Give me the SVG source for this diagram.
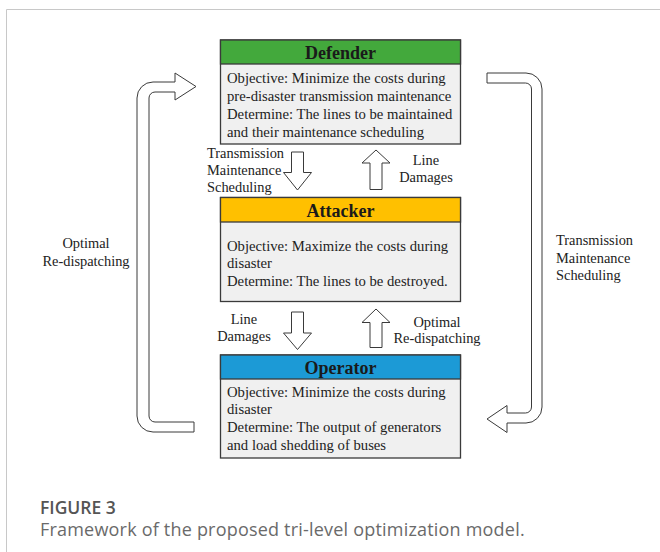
<svg xmlns="http://www.w3.org/2000/svg" width="660" height="552" viewBox="0 0 660 552">
<style>
.frame{fill:none;stroke:#c8c8c8;stroke-width:1}
.box{fill:#f0f0f0;stroke:#3a3a3a;stroke-width:1.3}
.hdr{stroke:#3a3a3a;stroke-width:1.3}
.ht{font-family:"Liberation Serif",serif;font-weight:bold;font-size:18px;fill:#1a1a1a;text-anchor:middle}
.bt{font-family:"Liberation Serif",serif;font-size:14.7px;fill:#222}
.lb{font-family:"Liberation Serif",serif;font-size:14.4px;fill:#222}
.mid{text-anchor:middle}
.arr{fill:#fff;stroke:#3a3a3a;stroke-width:1;stroke-linejoin:miter}
.cap1{font-family:"Open Sans",sans-serif;font-weight:600;font-size:17.5px;fill:#555}
.cap2{font-family:"Open Sans",sans-serif;font-size:18px;letter-spacing:0.2px;fill:#6a6a6a}
</style>
<path class="frame" d="M660,9.5 H6.5 V552"/>
<g id="defender">
<rect class="box" x="220.5" y="40" width="240" height="104"/>
<rect class="hdr" x="220.5" y="40" width="240" height="24" fill="#43a93c"/>
<text class="ht" x="340.5" y="58.5">Defender</text>
<text class="bt" x="227" y="83.3">Objective: Minimize the costs during</text>
<text class="bt" x="227" y="101.2">pre-disaster transmission maintenance</text>
<text class="bt" x="227" y="119">Determine: The lines to be maintained</text>
<text class="bt" x="227" y="136.8">and their maintenance scheduling</text>
</g>
<g id="attacker">
<rect class="box" x="220.5" y="197.5" width="240" height="104"/>
<rect class="hdr" x="220.5" y="197.5" width="240" height="24.5" fill="#ffc000"/>
<text class="ht" x="340.5" y="216.5">Attacker</text>
<text class="bt" x="227" y="250.5">Objective: Maximize the costs during</text>
<text class="bt" x="227" y="268.3">disaster</text>
<text class="bt" x="227" y="286.1">Determine: The lines to be destroyed.</text>
</g>
<g id="operator">
<rect class="box" x="220.5" y="355" width="240" height="103"/>
<rect class="hdr" x="220.5" y="355" width="240" height="24" fill="#1c9ad6"/>
<text class="ht" x="340.5" y="374">Operator</text>
<text class="bt" x="227" y="396.7">Objective: Minimize the costs during</text>
<text class="bt" x="227" y="414.4">disaster</text>
<text class="bt" x="227" y="432.1">Determine: The output of generators</text>
<text class="bt" x="227" y="449.8">and load shedding of buses</text>
</g>
<g id="connectors">
<path class="arr" d="M194,432 H153 A16,16 0 0 1 137,416 V98 A16,16 0 0 1 153,82 H175 V73 L196,86.5 L175,100 V92 H155 A6,6 0 0 0 149,98 V416 A6,6 0 0 0 155,422 H194 Z"/>
<path class="arr" d="M487,73 H526 A16,16 0 0 1 542,89 V407 A16,16 0 0 1 526,423 H507 V432.5 L487,419 L507,405.5 V413 H525.5 A6,6 0 0 0 531.5,407 V89 A6,6 0 0 0 525.5,83 H487 Z"/>
<path class="arr" d="M291.5,152 H303.5 V172.5 H311.5 L297.5,190 L283.5,172.5 H291.5 Z"/>
<path class="arr" d="M376,150 L390,163 H382 V189.5 H370 V163 H362 Z"/>
<path class="arr" d="M291.5,312 H303.5 V333 H311.5 L297.5,349.5 L283.5,333 H291.5 Z"/>
<path class="arr" d="M376,309 L390,322.5 H382 V347.5 H370 V322.5 H362 Z"/>
</g>
<g id="labels">
<text class="lb" x="207" y="158.3">Transmission</text>
<text class="lb" x="207" y="175">Maintenance</text>
<text class="lb" x="207" y="191.5">Scheduling</text>
<text class="lb mid" x="426" y="165">Line</text>
<text class="lb mid" x="426" y="181.7">Damages</text>
<text class="lb mid" x="244" y="324">Line</text>
<text class="lb mid" x="244" y="340.5">Damages</text>
<text class="lb mid" x="437" y="326.7">Optimal</text>
<text class="lb mid" x="437" y="343.3">Re-dispatching</text>
<text class="lb mid" x="86" y="248">Optimal</text>
<text class="lb mid" x="86" y="266">Re-dispatching</text>
<text class="lb" x="556" y="245">Transmission</text>
<text class="lb" x="556" y="263.3">Maintenance</text>
<text class="lb" x="556" y="280">Scheduling</text>
</g>
<text class="cap1" x="40" y="514">FIGURE 3</text>
<text class="cap2" x="40" y="535.8">Framework of the proposed tri-level optimization model.</text>
</svg>
